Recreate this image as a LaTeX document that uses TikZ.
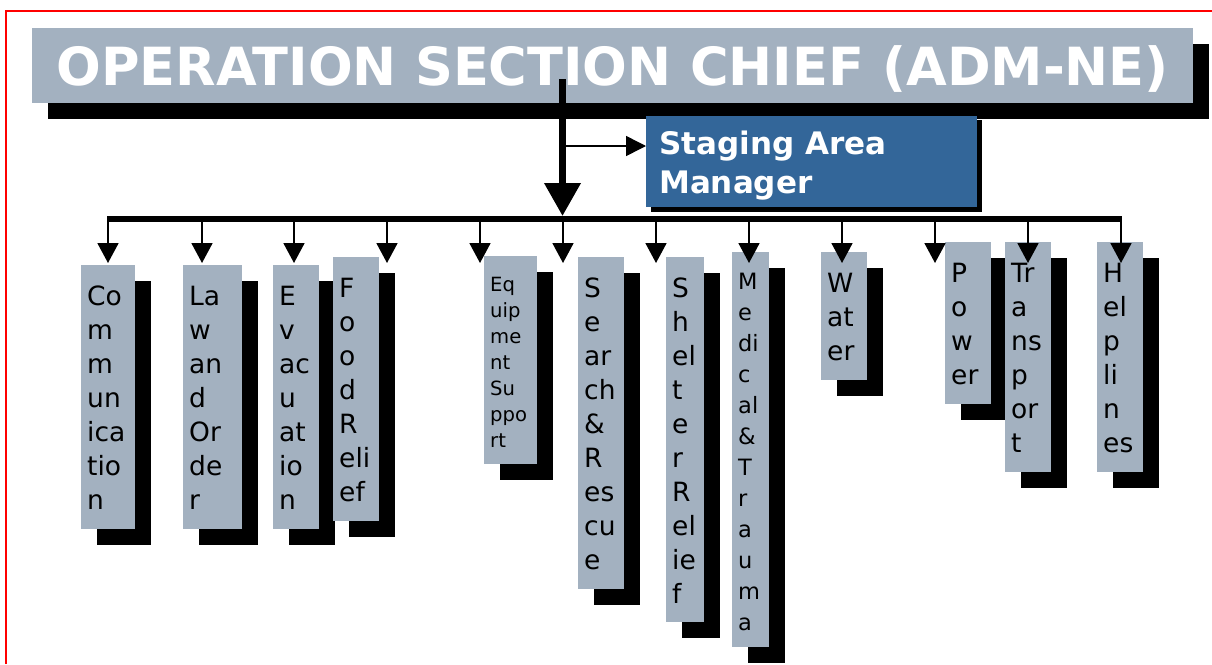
\documentclass[tikz,border=0pt]{standalone}
\usepackage{fontspec}
\setmainfont{DejaVu Sans}
\usetikzlibrary{arrows.meta}
\definecolor{boxgray}{RGB}{163,177,192}
\definecolor{boxblue}{RGB}{51,102,153}
\definecolor{frame}{RGB}{255,0,0}
\newcommand\normfont{\fontsize{26.5}{34}\selectfont}
\newcommand\smallfont{\fontsize{19.6}{26}\selectfont}
\newcommand\midfont{\fontsize{22.5}{31}\selectfont}
% #1 name, #2 x1, #3 y1, #4 x2, #5 y2, #6 font, #7 baseline offset, #8 text
\newcommand\orgbox[8]{%
  \fill[black] ({#2+16},{#3+16}) rectangle ({#4+16},{#5+16});
  \node[unitbox, minimum width={#4-#2}, minimum height={#5-#3}] (#1) at (#2,#3) {};
  \node[anchor=base west, inner sep=0pt, text=black] (#1-t) at ({#2+6},{#3+#7})
     {#6\parbox[t]{60pt}{\raggedright #8}};
}
\begin{document}
\begin{tikzpicture}[x=1pt,y=-1pt,
  unitbox/.style={fill=boxgray, anchor=north west, inner sep=0pt, draw=none},
  mainarrow/.style={line width=7pt, -{Triangle[length=33pt,width=35pt]}},
  childarrow/.style={line width=1.8pt, -{Triangle[length=20pt,width=21pt]}},
  sidearrow/.style={line width=1.5pt, -{Triangle[length=20pt,width=20pt]}},
  busline/.style={line width=6.5pt}]
\useasboundingbox (0,0) rectangle (1212,664);
\fill[white] (0,0) rectangle (1212,664);
% red frame
\draw[frame, line width=1.6pt] (5.8,664) -- (5.8,11) -- (1212,11);
% title
\fill[black] (48,44) rectangle (1209,119);
\node[fill=boxgray, anchor=north west, inner sep=0pt, minimum width=1161, minimum height=75,
      text=white, font=\fontsize{52.6}{60}\selectfont\bfseries, text depth=0pt] (title) at (32,28)
  {OPERATION SECTION CHIEF (ADM-NE)};
% staging area manager
\fill[black] (651,120) rectangle (982,212);
\node[fill=boxblue, anchor=north west, inner sep=0pt, minimum width=331, minimum height=91] (sam) at (646,116) {};
\node[anchor=base west, inner sep=0pt, text=white] (sam-t) at (659,154)
  {\fontsize{31}{39}\selectfont\bfseries\parbox[t]{300pt}{Staging Area\\Manager}};
% main arrow
\coordinate (mtop) at (562.5,79);
\coordinate (mtip) at (562.5,216);
\draw[mainarrow] (mtop) -- (mtip);
\coordinate (sarr) at (566,146);
\draw[sidearrow] (sarr) -- (sarr -| sam.west);
% boxes
\orgbox{comm}{81}{265}{135}{529}{\normfont}{40}{Co\\m\\m\\un\\ica\\tio\\n}
\orgbox{law}{183}{265}{242}{529}{\normfont}{40}{La\\w\\an\\d\\Or\\de\\r}
\orgbox{evac}{273}{265}{319}{529}{\normfont}{40}{E\\v\\ac\\u\\at\\io\\n}
\orgbox{food}{333}{257}{379}{521}{\normfont}{40}{F\\o\\o\\d\\R\\eli\\ef}
\orgbox{equip}{484}{256}{537}{464}{\smallfont}{35}{Eq\\uip\\me\\nt\\Su\\ppo\\rt}
\orgbox{search}{578}{257}{624}{589}{\normfont}{40}{S\\e\\ar\\ch\\\&\\R\\es\\cu\\e}
\orgbox{shelter}{666}{257}{704}{622}{\normfont}{40}{S\\h\\el\\t\\e\\r\\R\\el\\ie\\f}
\orgbox{medical}{732}{252}{769}{647}{\midfont}{37}{M\\e\\di\\c\\al\\\&\\T\\r\\a\\u\\m\\a}
\orgbox{water}{821}{252}{867}{380}{\normfont}{40}{W\\at\\er}
\orgbox{power}{945}{242}{991}{404}{\normfont}{40}{P\\o\\w\\er}
\orgbox{transport}{1005}{242}{1051}{472}{\normfont}{40}{Tr\\a\\ns\\p\\or\\t}
\orgbox{help}{1097}{242}{1143}{472}{\normfont}{40}{H\\el\\p\\li\\n\\es}
% bus
\coordinate (busL) at (107,219);
\coordinate (busR) at (1122,219);
\draw[busline] (busL) -- (busR);
\foreach \x [count=\i] in {108,202,294,387,480,563,656,749,842,935,1028,1121} {
  \coordinate (s\i) at (\x,219);
  \coordinate (t\i) at (\x,263);
  \draw[childarrow] (s\i) -- (t\i);
}
\end{tikzpicture}
\end{document}
